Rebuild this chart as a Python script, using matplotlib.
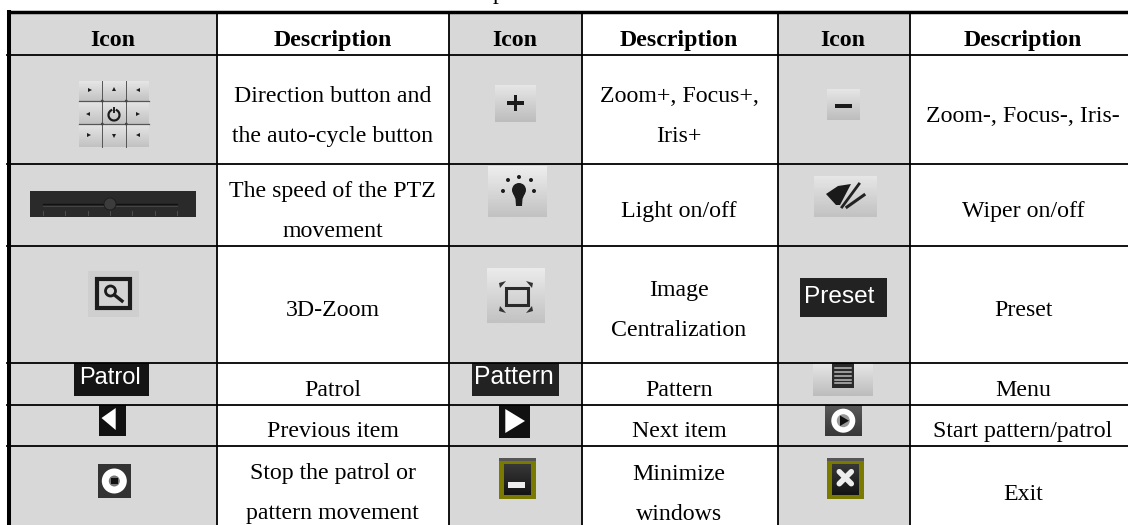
import numpy as np
import matplotlib
matplotlib.use("Agg")
import matplotlib.pyplot as plt
from matplotlib.patches import Rectangle, Polygon, Circle

headers = ["Icon", "Description", "Icon", "Description", "Icon", "Description"]
descriptions = [
    ["Direction button and\nthe auto-cycle button", "Zoom+, Focus+,\nIris+", "Zoom-, Focus-, Iris-"],
    ["The speed of the PTZ\nmovement", "Light on/off", "Wiper on/off"],
    ["3D-Zoom", "Image\nCentralization", "Preset"],
    ["Patrol", "Pattern", "Menu"],
    ["Previous item", "Next item", "Start pattern/patrol"],
    ["Stop the patrol or\npattern movement", "Minimize\nwindows", "Exit"],
]
icon_labels = {"preset": "Preset", "patrol": "Patrol", "pattern": "Pattern"}

W, H = 1128, 525
FS = 17.2
col_lines = [9, 217, 449, 582, 778, 910, 1128]
row_lines = [12, 54.5, 163.5, 245.7, 362.7, 404.7, 446, 525]
icon_cx = [113, 514.5, 843]
desc_cx = [332.5, 679, 1023]
row_base = [121.7, 216.7, 316, 395.7, 436.7, 499.5]
LINE_GAP = 40
GREY = "#d8d8d8"
DARK = "#1c1c1c"

plt.rcParams["font.family"] = ["Liberation Serif", "DejaVu Serif"]
fig = plt.figure(figsize=(W / 100, H / 100), dpi=100)
ax = fig.add_axes([0, 0, 1, 1])


def grad(x0, y0, x1, y1, top=0.90, bottom=0.75, z=2):
    g = np.linspace(top, bottom, 32).reshape(-1, 1)
    ax.imshow(g, extent=(x0, x1, y1, y0), cmap="gray", vmin=0, vmax=1,
              aspect="auto", zorder=z, interpolation="bilinear")


def box(x0, y0, x1, y1, color, z=3):
    ax.add_patch(Rectangle((x0, y0), x1 - x0, y1 - y0, fc=color, ec="none", zorder=z))


def tri(pts, color=DARK, z=4):
    ax.add_patch(Polygon(pts, closed=True, fc=color, ec="none", zorder=z))


def dir_pad():
    x0, y0, x1, y1 = 79, 81, 149, 147
    xs = [x0, 102.3, 126.3, x1]
    ys = [y0, 101, 124, y1]
    for r in range(3):
        grad(x0, ys[r], x1, ys[r + 1], 0.90, 0.76)
    for x in xs[1:3]:
        ax.plot([x, x], [y0, y1], color="#555555", lw=0.7, zorder=3)
    for y in ys[1:3]:
        ax.plot([x0, x1], [y, y], color="#555555", lw=0.9, zorder=3)
    for x in xs[1:3]:
        for y in ys[1:3]:
            ax.add_patch(Circle((x, y), 1.4, fc="#444444", ec="none", zorder=4))
    s = 2
    # small arrows round the centre
    arrows = [(90, 90, "r"), (114, 89, "u"), (138, 90, "l"),
              (88, 114, "l"), (138, 114, "r"),
              (89, 135, "r"), (114, 136, "d"), (138, 135, "l")]
    for ax_x, ax_y, d in arrows:
        if d == "r":
            tri([(ax_x - s, ax_y - s), (ax_x - s, ax_y + s), (ax_x + s, ax_y)])
        elif d == "l":
            tri([(ax_x + s, ax_y - s), (ax_x + s, ax_y + s), (ax_x - s, ax_y)])
        elif d == "u":
            tri([(ax_x - s, ax_y + s), (ax_x + s, ax_y + s), (ax_x, ax_y - s)])
        else:
            tri([(ax_x - s, ax_y - s), (ax_x + s, ax_y - s), (ax_x, ax_y + s)])
    t = np.linspace(np.radians(-60), np.radians(240), 40)
    ax.plot(114 + 5.5 * np.cos(t), 115 + 5.5 * np.sin(t), color=DARK, lw=1.6, zorder=4)
    ax.plot([114, 114], [108, 112], color=DARK, lw=1.4, zorder=4)


def plus_icon():
    grad(495, 85, 536, 121.7, 0.90, 0.74)
    box(507, 101.3, 524, 105, "#1a1a1a")
    box(513.6, 95, 517.3, 111, "#1a1a1a")


def minus_icon():
    grad(827, 89, 860, 120, 0.90, 0.74)
    box(835, 103.5, 852, 107.5, "#1a1a1a")


def slider():
    box(30, 191, 196, 216.7, "#2a2a2a")
    ax.plot([43, 177], [204, 204], color="#111111", lw=1, zorder=4)
    ax.plot([43, 177], [205.5, 205.5], color="#4a4a4a", lw=0.6, zorder=4)
    for x in [43, 65, 88, 110, 132, 155, 177]:
        ax.plot([x, x], [211, 215], color="#555555", lw=0.6, zorder=4)
    ax.add_patch(Circle((110, 204), 6, fc="#3c3c3c", ec="#1c1c1c", lw=0.6, zorder=5))


def bulb():
    grad(488, 166, 547, 216.7, 0.93, 0.76)
    ax.add_patch(Circle((519, 190), 7, fc=DARK, ec="none", zorder=4))
    tri([(513, 193), (525, 193), (522.5, 199), (522, 206), (516, 206), (515.5, 199)])
    dots = [(519, 177), (508, 180), (531, 180), (503, 191), (534, 191)]
    for p in dots:
        ax.add_patch(Circle(p, 2, fc=DARK, ec="none", zorder=4))


def wiper():
    grad(814, 176, 877, 216.7, 0.90, 0.76)
    tri([(826, 194), (838, 186), (851, 184), (840, 205), (836, 205)], "#1a1a1a")
    ax.plot([842, 859], [207, 184], color="#222222", lw=2, zorder=4)
    ax.plot([847, 864], [207, 195], color="#222222", lw=2.2, zorder=4)


def zoom3d():
    box(88, 271, 139, 316.7, "#cfcfcf", z=2)
    ax.add_patch(Rectangle((96.5, 279), 33, 29, fc="#d4d4d4", ec="#1c1c1c", lw=3, zorder=3))
    ax.add_patch(Circle((110.5, 291), 5, fc="#d4d4d4", ec="#1c1c1c", lw=2, zorder=4))
    ax.plot([114.5, 122], [295, 301], color="#1c1c1c", lw=2.4, zorder=4)


def centralize():
    grad(487, 268, 545, 322.7, 0.92, 0.76)
    ax.add_patch(Rectangle((505.5, 288), 22, 17, fc="none", ec="#2a2a2a", lw=2.2, zorder=4))
    s = 5
    for x, y, dx, dy in [(499, 283, 1, 1), (533, 283, -1, 1), (499, 311, 1, -1), (533, 311, -1, -1)]:
        tri([(x, y), (x + dx * s * 1.4, y - dy * 2), (x + dx * 1, y + dy * s)], "#333333")


def word_icon(x0, y0, x1, y1, key, tx, by, fs, color="#222222"):
    box(x0, y0, x1, y1, color)
    ax.text(tx, by, icon_labels[key], color="white", fontsize=fs, ha="left", va="baseline",
            family="Liberation Sans", zorder=5)


def menu_icon():
    grad(813, 363, 873, 395.7, 0.90, 0.74)
    box(832, 363, 854, 388, "#2a2a2a")
    for y in [367.5, 371.5, 375.5, 379.5, 383]:
        ax.plot([835, 851], [y, y], color="#bbbbbb", lw=1.1, zorder=4)


def prev_icon():
    box(99, 405, 126, 435.7, "#111111")
    tri([(101.5, 418), (115.7, 408), (115.7, 430)], "white")


def next_icon():
    box(499, 405, 530, 437.7, "#111111")
    tri([(505.3, 409), (505.3, 433), (525, 421)], "white")


def start_icon():
    grad(825, 405, 862, 436, 0.35, 0.22)
    ax.add_patch(Circle((843.3, 420.7), 12, fc="white", ec="none", zorder=4))
    ax.add_patch(Circle((843.3, 420.7), 6.5, fc="#999999", ec="none", zorder=5))
    tri([(840, 415.5), (840, 426), (849, 420.7)], "#111111", z=6)


def stop_icon():
    box(98, 464, 131, 498.3, "#333333")
    ax.add_patch(Circle((114.3, 481), 12.5, fc="white", ec="none", zorder=4))
    ax.add_patch(Circle((114.3, 481), 5.5, fc="#777777", ec="none", zorder=5))
    box(111, 477.7, 117.6, 484.3, "#111111", z=6)


def win_icon(x0, x1):
    y0, y1 = 458, 499
    box(x0, y0, x1, y0 + 3, "#555555", z=2)
    box(x0, y0 + 3, x1, y1, "#7a7a00", z=3)
    grad(x0 + 5, y0 + 6, x1 - 5, y1 - 4, 0.22, 0.08, z=4)


def minimize_icon():
    win_icon(499, 536)
    box(507.7, 482.3, 525.3, 488.3, "#eeeeee", z=5)


def exit_icon():
    win_icon(827, 864)
    cx, cy = 845.3, 477.7
    for d in [1, -1]:
        ax.plot([cx - 6, cx + 6], [cy - 6 * d, cy + 6 * d], color="#eeeeee", lw=4,
                solid_capstyle="round", zorder=5)


# grey icon columns and grid
for c in [0, 2, 4]:
    box(col_lines[c], row_lines[0], col_lines[c + 1], H, GREY, z=1)
for x in col_lines[1:6]:
    ax.plot([x, x], [row_lines[0], H], color="black", lw=1.3, zorder=6)
for y in row_lines[1:7]:
    ax.plot([7, W], [y, y], color="black", lw=1.3, zorder=6)
ax.plot([9.2, 9.2], [10, H], color="black", lw=2.9, solid_capstyle="butt", zorder=7)
ax.plot([7, W], [11.8, 11.8], color="black", lw=2.5, solid_capstyle="butt", zorder=7)

# clipped caption above the table
ax.text(499, -1, "p", fontsize=FS, ha="center", va="baseline", color="black", zorder=7,
        clip_on=False)

# header
head_x = [icon_cx[0], desc_cx[0], icon_cx[1], desc_cx[1], icon_cx[2], desc_cx[2]]
for name, x in zip(headers, head_x):
    ax.text(x, 46, name, fontsize=FS, fontweight="bold", ha="center", va="baseline", zorder=8)

# description cells
for r, row in enumerate(descriptions):
    for c, txt in enumerate(row):
        lines = txt.split("\n")
        for i, ln in enumerate(lines):
            y = row_base[r] + (i - (len(lines) - 1) / 2) * LINE_GAP
            ax.text(desc_cx[c], y, ln, fontsize=FS, ha="center", va="baseline", zorder=8)

# icons
dir_pad()
plus_icon()
minus_icon()
slider()
bulb()
wiper()
zoom3d()
centralize()
word_icon(800, 278, 887, 316.7, "preset", 803.5, 303, 17.6)
word_icon(74, 363, 149, 395.7, "patrol", 79.5, 384, 17, "#151515")
word_icon(472, 363, 559, 395.7, "pattern", 473.5, 384, 17.8)
menu_icon()
prev_icon()
next_icon()
start_icon()
stop_icon()
minimize_icon()
exit_icon()

ax.set_xlim(0, W)
ax.set_ylim(H, 0)
ax.axis("off")
fig.savefig("out.png", dpi=100, facecolor="white")
